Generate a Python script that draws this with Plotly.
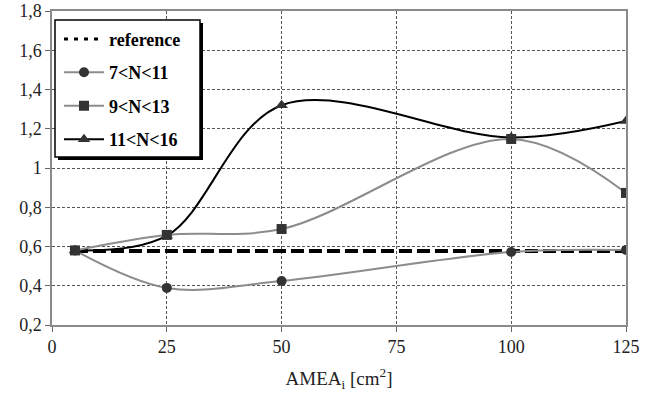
import plotly.graph_objects as go

x_vals = [5, 25, 50, 100, 125]
reference = [0.577, 0.577, 0.577, 0.577, 0.577]
n7_11 = [0.58, 0.389, 0.424, 0.572, 0.582]
n9_13 = [0.58, 0.659, 0.689, 1.148, 0.873]
n11_16 = [0.58, 0.655, 1.32, 1.155, 1.24]

x_ticks = [0, 25, 50, 75, 100, 125]
y_ticks = [0.2, 0.4, 0.6, 0.8, 1.0, 1.2, 1.4, 1.6, 1.8]
y_tick_text = ["0,2", "0,4", "0,6", "0,8", "1", "1,2", "1,4", "1,6", "1,8"]

FONT = "Liberation Serif"
MK = "#333333"
GRAY = "#8c8c8c"

fig = go.Figure()

fig.add_trace(go.Scatter(
    x=x_vals, y=reference, mode="lines", name="reference", showlegend=False,
    line=dict(color="black", width=4, dash="13px,5px"), hoverinfo="skip"))
fig.add_trace(go.Scatter(
    x=[None], y=[None], mode="lines", name="reference", legendrank=1, legendgroup="g1",
    line=dict(color="black", width=3, dash="4px,6px")))

fig.add_trace(go.Scatter(
    x=x_vals, y=n7_11, mode="lines+markers", name="7<N<11", legendrank=2, legendgroup="g2",
    line=dict(color=GRAY, width=2, shape="spline", smoothing=1.0),
    marker=dict(symbol="circle", size=10, color=MK)))
fig.add_trace(go.Scatter(
    x=x_vals, y=n11_16, mode="lines+markers", name="11<N<16", legendrank=4, legendgroup="g4",
    line=dict(color="black", width=2, shape="spline", smoothing=1.0),
    marker=dict(symbol="triangle-up", size=11, color=MK)))
fig.add_trace(go.Scatter(
    x=x_vals, y=n9_13, mode="lines+markers", name="9<N<13", legendrank=3, legendgroup="g3",
    line=dict(color=GRAY, width=2, shape="spline", smoothing=1.0),
    marker=dict(symbol="square", size=10, color=MK)))

axis_common = dict(
    showline=True, linecolor="#8a8a8a", linewidth=1.5, mirror=True,
    ticks="outside", ticklen=5, tickcolor="#666666", tickwidth=1,
    showgrid=True, gridcolor="#555555", gridwidth=1, griddash="3px,2px",
    zeroline=False, automargin=False, ticklabeloverflow="allow",
    tickfont=dict(family=FONT, size=18, color="#222222"),
)

fig.update_xaxes(range=[0, 125], tickvals=x_ticks, ticktext=[str(t) for t in x_ticks],
                 title=dict(text="AMEA<sub>i</sub> [cm<sup>2</sup>]",
                            font=dict(family=FONT, size=19, color="#222222"), standoff=15),
                 **axis_common)
fig.update_yaxes(range=[0.2, 1.8], tickvals=y_ticks, ticktext=y_tick_text, **axis_common)

# legend box: shadow + white framed box (pixel coords relative to plot top-left)
fig.add_shape(type="rect", xref="paper", yref="paper",
              xsizemode="pixel", ysizemode="pixel", xanchor=0, yanchor=1,
              x0=6, x1=151, y0=-149, y1=-12,
              fillcolor="black", line=dict(width=0), layer="above")
fig.add_shape(type="rect", xref="paper", yref="paper",
              xsizemode="pixel", ysizemode="pixel", xanchor=0, yanchor=1,
              x0=3, x1=148, y0=-146, y1=-9,
              fillcolor="white", line=dict(color="black", width=1.5), layer="above")

fig.update_layout(
    width=655, height=396,
    margin=dict(l=52, r=29, t=11, b=71),
    paper_bgcolor="white", plot_bgcolor="white",
    font=dict(family=FONT, size=18, color="#222222"),
    legend=dict(x=0.0122, y=0.969, xanchor="left", yanchor="top",
                bgcolor="rgba(0,0,0,0)", borderwidth=0, itemwidth=40,
                font=dict(family=FONT, size=18, color="black", weight="bold"),
                traceorder="grouped", tracegroupgap=7),
    showlegend=True,
)

fig.write_html("out.html", config={"displayModeBar": False},
               post_script="document.body.style.margin='0';")
